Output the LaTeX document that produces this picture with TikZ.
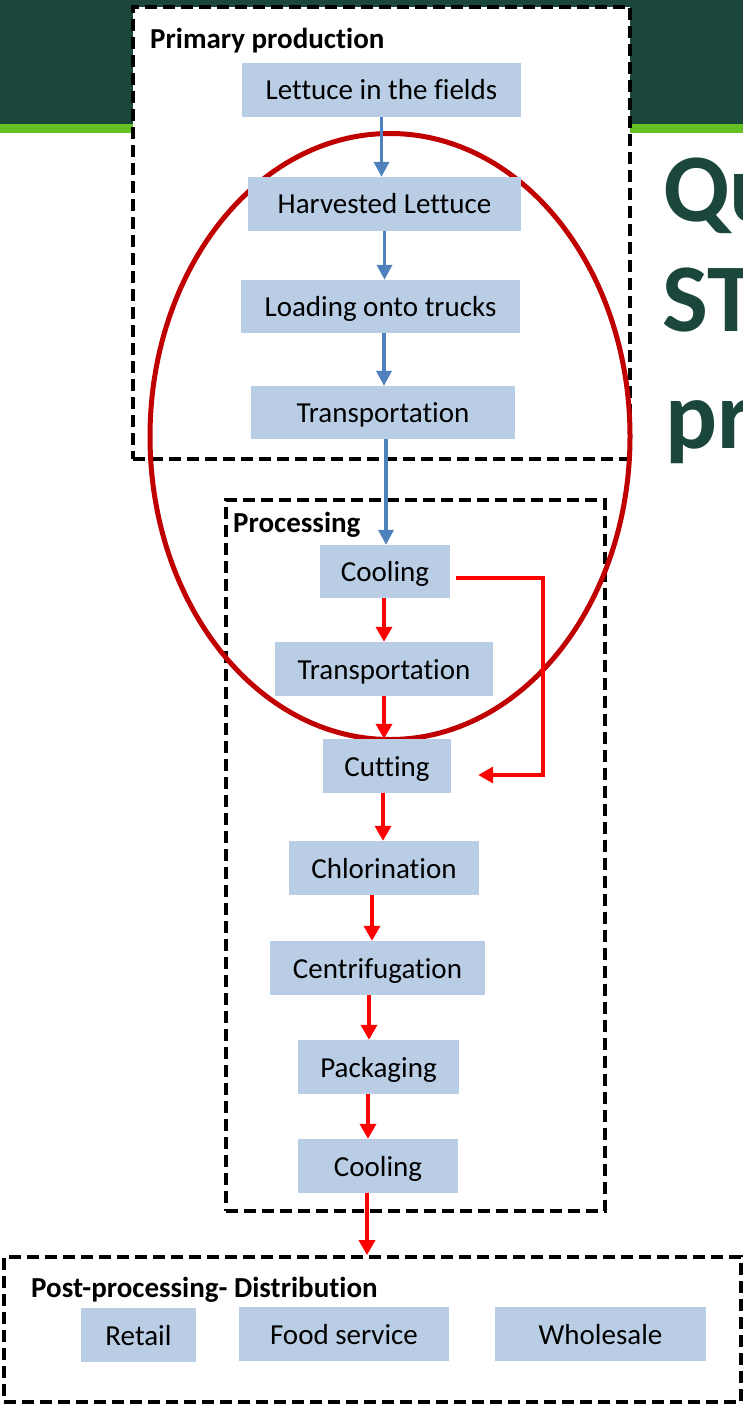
\documentclass[tikz,border=0pt]{standalone}
\usepackage{fontspec}
\setmainfont{Carlito}[Ligatures={NoCommon,NoContextual}]
\usetikzlibrary{arrows.meta,calc}
\definecolor{dkgreen}{RGB}{26,70,59}
\definecolor{ltgreen}{RGB}{102,194,36}
\definecolor{boxblue}{RGB}{185,205,229}
\definecolor{arrblue}{RGB}{79,129,189}
\definecolor{ellred}{RGB}{192,0,0}
\definecolor{arrred}{RGB}{255,0,0}
\begin{document}
\begin{tikzpicture}[x=1pt,y=-1pt,
  stepbox/.style={fill=boxblue, inner sep=0pt, minimum height=54pt, text height=20pt, text depth=0pt, font=\fontsize{29}{35}\selectfont},
  groupbox/.style={draw=black, line width=3.8pt, dash pattern=on 12pt off 6pt, inner sep=0pt},
  grouplabel/.style={anchor=base west, inner sep=0pt, font=\fontsize{29}{35}\selectfont\bfseries},
  barrow/.style={draw=arrblue, line width=3.5pt, -{Triangle[width=15pt,length=15pt]}},
  rarrow/.style={draw=arrred, line width=3.5pt, -{Triangle[width=16pt,length=15pt]}},
  titletext/.style={anchor=base west, inner sep=0pt, text=dkgreen, font=\fontsize{97}{116}\selectfont\bfseries}]
\useasboundingbox (0,0) rectangle (743,1404);
\fill[white] (0,0) rectangle (743,1404);
\fill[dkgreen] (0,0) rectangle (743,124);
\fill[ltgreen] (0,124) rectangle (743,133);
\begin{scope}
\clip (0,0) rectangle (743,1404);
\node[titletext] (t1) at (663,222) {Qu};
\node[titletext] (t2) at (662,331) {ST};
\node[titletext] (t3) at (665,448) {pr};
\end{scope}
% group boxes
\node[groupbox, fill=white, minimum width=497pt, minimum height=452pt] (prim) at (381.5,233) {};
\node[groupbox, minimum width=379pt, minimum height=711pt] (proc) at (415.5,855.5) {};
\node[groupbox, minimum width=737pt, minimum height=145pt] (post) at (372.5,1329.5) {};
\node[grouplabel] (lprim) at (150,49) {Primary production};
\node[grouplabel] (lproc) at (233,532) {Processing};
\node[grouplabel] (lpost) at (31,1297) {Post-processing- Distribution};
% ellipse
\draw[ellred, line width=5pt] (390,436.5) ellipse [x radius=240pt, y radius=303pt];
% steps
\node[stepbox, minimum width=279pt] (n1) at (381.5,90) {Lettuce in the fields};
\node[stepbox, minimum width=273pt] (n2) at (384.5,204) {Harvested Lettuce};
\node[stepbox, minimum width=279pt, minimum height=53pt] (n3) at (380.5,306.5) {Loading onto trucks};
\node[stepbox, minimum width=264pt, minimum height=53pt] (n4) at (383,412.5) {Transportation};
\node[stepbox, minimum width=130pt, minimum height=53pt] (n5) at (385,571.5) {Cooling};
\node[stepbox, minimum width=218pt] (n6) at (384,669) {Transportation};
\node[stepbox, minimum width=128pt] (n7) at (387,766) {Cutting};
\node[stepbox, minimum width=190pt] (n8) at (384,868) {Chlorination};
\node[stepbox, minimum width=215pt] (n9) at (377.5,968) {Centrifugation};
\node[stepbox, minimum width=161pt] (n10) at (378.5,1067) {Packaging};
\node[stepbox, minimum width=160pt] (n11) at (378,1166) {Cooling};
\node[stepbox, minimum width=115pt] (r) at (138.5,1335) {Retail};
\node[stepbox, minimum width=210pt] (f) at (344,1334) {Food service};
\node[stepbox, minimum width=211pt] (w) at (600.5,1334) {Wholesale};
% arrows
\draw[barrow] (n1.south) -- (n1.south |- n2.north);
\draw[barrow] (n2.south) -- (n2.south |- n3.north);
\draw[barrow] ([xshift=3.5pt]n3.south) -- ([xshift=3.5pt]n3.south |- n4.north);
\draw[barrow] ([xshift=3pt]n4.south) -- ([xshift=3pt]n4.south |- n5.north);
\draw[rarrow] ([xshift=-1pt]n5.south) -- ([xshift=-1pt]n5.south |- n6.north);
\draw[rarrow] (n6.south) -- (n6.south |- n7.north);
\draw[rarrow] ([xshift=-4pt]n7.south) -- ([xshift=-4pt]n7.south |- n8.north);
\draw[rarrow] ([xshift=-12pt]n8.south) -- ([xshift=-12pt]n8.south |- n9.north);
\draw[rarrow] ([xshift=-8.5pt]n9.south) -- ([xshift=-8.5pt]n9.south |- n10.north);
\draw[rarrow] ([xshift=-10.5pt]n10.south) -- ([xshift=-10.5pt]n10.south |- n11.north);
\draw[rarrow] ([xshift=-11pt]n11.south) -- ([xshift=-11pt]n11.south |- post.north);
\draw[rarrow, line width=3.5pt] ([shift={(6,6.5)}]n5.east) -- ++(87,0) |- ([shift={(27,9)}]n7.east);
\end{tikzpicture}
\end{document}
